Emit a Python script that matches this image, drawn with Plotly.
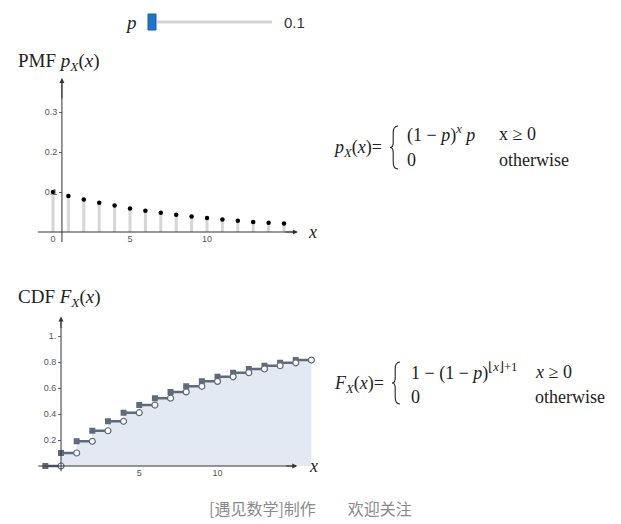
import plotly.graph_objects as go

W, H = 621, 524

# values (p = 0.1)
pmf_x = [0, 1, 2, 3, 4, 5, 6, 7, 8, 9, 10, 11, 12, 13, 14, 15]
pmf_vals = [0.100, 0.090, 0.081, 0.073, 0.066, 0.059, 0.053, 0.048,
            0.043, 0.039, 0.035, 0.031, 0.028, 0.025, 0.023, 0.021]
cdf_vals = [0.100, 0.190, 0.271, 0.344, 0.410, 0.469, 0.522, 0.570,
            0.613, 0.651, 0.686, 0.718, 0.746, 0.771, 0.794, 0.815]
pmf_ticks = [0.1, 0.2, 0.3]
pmf_ticktext = ['0.1', '0.2', '0.3']
cdf_ticks = [0.2, 0.4, 0.6, 0.8, 1.0]
cdf_ticktext = ['0.2', '0.4', '0.6', '0.8', '1.']
p_value = 0.1


def px(x):
    return x / W


def py(y):
    return 1 - y / H


serif = 'Liberation Serif, Times New Roman, serif'
sans = 'Liberation Sans, Arial, sans-serif'
line_col = '#5f6b7a'
axis_col = '#333333'

fig = go.Figure()

# ---- PMF stems and dots
sx, sy = [], []
for x, v in zip(pmf_x, pmf_vals):
    sx += [x, x, None]
    sy += [0, v, None]
fig.add_trace(go.Scatter(x=sx, y=sy, mode='lines', line=dict(color='#d6d6d6', width=3),
                         xaxis='x', yaxis='y', hoverinfo='skip'))
fig.add_trace(go.Scatter(x=pmf_x, y=pmf_vals, mode='markers',
                         marker=dict(color='black', size=4.5), xaxis='x', yaxis='y'))

# ---- CDF filled area
fx = pmf_x + [pmf_x[-1] + 1]
fy = cdf_vals + [cdf_vals[-1]]
fig.add_trace(go.Scatter(x=fx, y=fy, mode='lines', line=dict(width=0, shape='hv'),
                         fill='tozeroy', fillcolor='#e3e9f2', xaxis='x2', yaxis='y2',
                         hoverinfo='skip'))

# step segments
segx, segy = [-1, 0, None], [0, 0, None]
for k, v in zip(pmf_x, cdf_vals):
    segx += [k, k + 1, None]
    segy += [v, v, None]
fig.add_trace(go.Scatter(x=segx, y=segy, mode='lines', line=dict(color=line_col, width=2.5),
                         xaxis='x2', yaxis='y2'))
fig.add_trace(go.Scatter(x=[-1] + pmf_x, y=[0] + cdf_vals, mode='markers',
                         marker=dict(color=line_col, size=6, symbol='square'),
                         xaxis='x2', yaxis='y2'))
fig.add_trace(go.Scatter(x=[0] + [k + 1 for k in pmf_x], y=[0] + cdf_vals, mode='markers',
                         marker=dict(color='white', size=6, line=dict(color=line_col, width=1.2)),
                         xaxis='x2', yaxis='y2'))

tickfont = dict(family=sans, size=9, color='#555555')

# PMF axes: 0 at px 53, 15.4 px/unit ; y 0 at 232, 400 px/unit
pmf_xr = [-1, 16]
pmf_yr = [-0.03, 0.38]
# CDF axes: 0 at px 61, 15.65 px/unit ; y 0 at 466, 130 px/unit
cdf_xr = [-1.5, 16.3]
cdf_yr = [-0.05, 1.13]

fig.update_layout(
    width=W, height=H,
    margin=dict(l=0, r=0, t=0, b=0),
    paper_bgcolor='white', plot_bgcolor='rgba(0,0,0,0)',
    showlegend=False,
    xaxis=dict(domain=[px(53 - 15.4), px(53 + 16 * 15.4)], range=pmf_xr,
               anchor='free', position=py(232), showgrid=False, zeroline=False,
               showline=False, tickvals=[0, 5, 10], ticktext=['0', '5', '10'],
               ticks='', tickfont=tickfont),
    yaxis=dict(domain=[py(232 + 0.03 * 400), py(232 - 0.38 * 400)], range=pmf_yr,
               anchor='free', position=px(62), showgrid=False, zeroline=False,
               showline=False, tickvals=pmf_ticks, ticktext=pmf_ticktext,
               ticks='outside', ticklen=3, tickcolor='#666', tickfont=tickfont),
    xaxis2=dict(domain=[px(61 - 1.5 * 15.65), px(61 + 16.3 * 15.65)], range=cdf_xr,
                anchor='free', position=py(466), showgrid=False, zeroline=False,
                showline=False, tickvals=[5, 10], ticktext=['5', '10'],
                ticks='', tickfont=tickfont),
    yaxis2=dict(domain=[py(466 + 0.05 * 130), py(466 - 1.13 * 130)], range=cdf_yr,
                anchor='free', position=px(61), showgrid=False, zeroline=False,
                showline=False, tickvals=cdf_ticks, ticktext=cdf_ticktext,
                ticks='outside', ticklen=3, tickcolor='#666', tickfont=tickfont),
)


def brace(x_right, y_top, y_bot, depth=8):
    # curly brace drawn as an svg path in paper coordinates
    ym = (y_top + y_bot) / 2
    xr = x_right
    xc = x_right - depth * 0.6
    xl = x_right - depth
    pts = [
        ('M', [(xr, y_top)]),
        ('Q', [(xc, y_top), (xc, y_top + 7)]),
        ('L', [(xc, ym - 5)]),
        ('Q', [(xc, ym), (xl, ym)]),
        ('Q', [(xc, ym), (xc, ym + 5)]),
        ('L', [(xc, y_bot - 7)]),
        ('Q', [(xc, y_bot), (xr, y_bot)]),
    ]
    path = ''
    for cmd, coords in pts:
        path += cmd + ' ' + ' '.join(f'{px(a):.5f},{py(b):.5f}' for a, b in coords) + ' '
    return dict(type='path', xref='paper', yref='paper', path=path.strip(),
                line=dict(color='#222', width=1.1))


shapes = [
    # PMF axes
    dict(type='line', xref='x', yref='y', x0=-1, x1=15.8, y0=0, y1=0,
         line=dict(color=axis_col, width=1)),
    dict(type='line', xref='x', yref='y', x0=0.58, x1=0.58, y0=-0.025, y1=0.375,
         line=dict(color=axis_col, width=1)),
    # CDF axes
    dict(type='line', xref='x2', yref='y2', x0=-1.45, x1=15.0, y0=0, y1=0,
         line=dict(color=axis_col, width=1)),
    dict(type='line', xref='x2', yref='y2', x0=0, x1=0, y0=-0.04, y1=1.12,
         line=dict(color=axis_col, width=1)),
    # slider
    dict(type='line', xref='paper', yref='paper', x0=px(157), x1=px(272), y0=py(22), y1=py(22),
         line=dict(color='#d4d4d4', width=3)),
    dict(type='rect', xref='paper', yref='paper', x0=px(148), x1=px(156), y0=py(30), y1=py(14),
         fillcolor='#1b75c9', line=dict(color='#1560a8', width=1)),
    brace(398, 126, 169),
    brace(400, 362, 404),
]
fig.update_layout(shapes=shapes)

arrows = [
    dict(x=15.9, y=0, ax=15.0, ay=0, xref='x', yref='y', axref='x', ayref='y'),
    dict(x=0.58, y=0.385, ax=0.58, ay=0.33, xref='x', yref='y', axref='x', ayref='y'),
    dict(x=15.1, y=0, ax=14.3, ay=0, xref='x2', yref='y2', axref='x2', ayref='y2'),
    dict(x=0, y=1.15, ax=0, ay=1.05, xref='x2', yref='y2', axref='x2', ayref='y2'),
]
anns = []
for a in arrows:
    a.update(text='', showarrow=True, arrowhead=2, arrowsize=1, arrowwidth=1, arrowcolor=axis_col)
    anns.append(a)


def txt(x, y, s, size=17, family=serif, color='#222', xanchor='left'):
    anns.append(dict(x=px(x), y=py(y), xref='paper', yref='paper', text=s, showarrow=False,
                     xanchor=xanchor, yanchor='middle', font=dict(family=family, size=size, color=color)))


# slider labels
txt(131, 22, '<i>p</i>', size=19, xanchor='center')
txt(282, 22, str(p_value), size=15, family=sans, color='#333')

# panel titles
txt(16, 62, 'PMF <i>p</i><sub><i>X</i></sub>(<i>x</i>)', size=19)
txt(16, 298, 'CDF <i>F</i><sub><i>X</i></sub>(<i>x</i>)', size=19)

# axis x labels
txt(312, 232, '<i>x</i>', size=18, xanchor='center')
txt(313, 466, '<i>x</i>', size=18, xanchor='center')

# PMF formula
txt(331, 148, '<i>p</i><sub><i>X</i></sub>(<i>x</i>)=', size=18)
txt(405, 134, '(1 − <i>p</i>)<sup><i>x</i></sup> <i>p</i>', size=18)
txt(497, 134, 'x ≥ 0', size=18)
txt(405, 160, '0', size=18)
txt(497, 160, 'otherwise', size=18)

# CDF formula
txt(332, 384, '<i>F</i><sub><i>X</i></sub>(<i>x</i>)=', size=18)
txt(409, 372, '1 − (1 − <i>p</i>)<sup>⌊<i>x</i>⌋+1</sup>', size=18)
txt(533, 372, '<i>x</i> ≥ 0', size=18)
txt(409, 397, '0', size=18)
txt(533, 397, 'otherwise', size=18)

# footer
txt(310, 508, '[遇见数学]制作\u3000\u3000欢迎关注', size=16, family='Noto Sans CJK SC',
    color='#8a8a8a', xanchor='center')

fig.update_layout(annotations=anns)

fig.write_html("out.html", config={'displayModeBar': False},
               post_script="document.body.style.margin='0px';")
